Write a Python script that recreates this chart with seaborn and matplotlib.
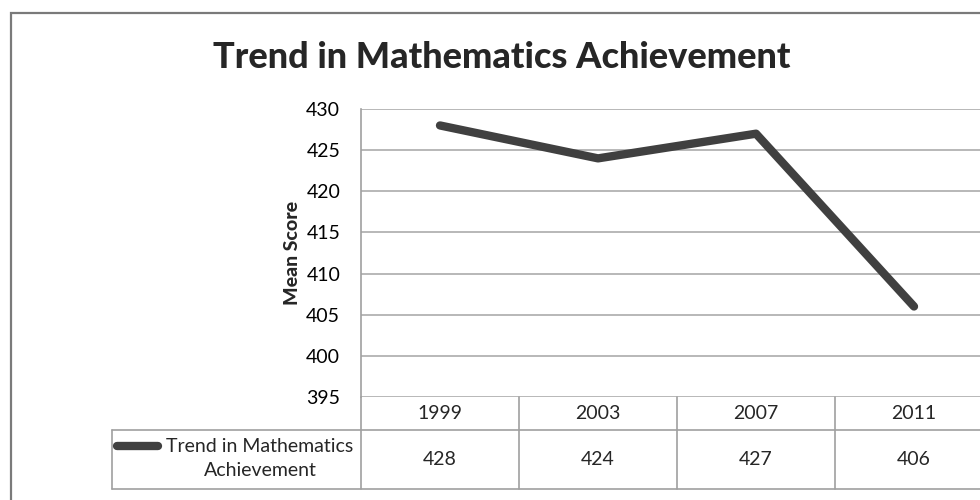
import numpy as np
import pandas as pd
import matplotlib
matplotlib.use("Agg")
import matplotlib.pyplot as plt
import seaborn as sns
from matplotlib.lines import Line2D
from matplotlib.patches import Rectangle

# ---------------- data ----------------
years = ["1999", "2003", "2007", "2011"]
scores = [428, 424, 427, 406]
series_name = "Trend in Mathematics Achievement"
y_ticks = [395, 400, 405, 410, 415, 420, 425, 430]

sns.set_style("white")
plt.rcParams["font.family"] = ["Lato", "DejaVu Sans"]

LINE_COLOR = "#404040"
GRID_COLOR = "#ababab"
TABLE_COLOR = "#a0a0a0"

W, H = 980, 500
fig = plt.figure(figsize=(9.8, 5), dpi=100)

def fx(px):
    return px / W

def fy(py):
    return 1 - py / H

# plot area (runs off the right edge, as in the reference)
ax = fig.add_axes([fx(361), fy(397), 632 / W, 288 / H])

df = pd.DataFrame({"pos": np.arange(len(years)), "score": scores})
sns.lineplot(data=df, x="pos", y="score", ax=ax, color=LINE_COLOR, linewidth=6,
             solid_capstyle="round", solid_joinstyle="round", legend=False)

ax.set_xlim(-0.5, len(years) - 0.5)
ax.set_ylim(y_ticks[0], y_ticks[-1])
ax.set_yticks(y_ticks)
ax.set_xticks([])
ax.set_xlabel("")
ax.set_ylabel("")
ax.tick_params(axis="y", length=0, pad=15, labelsize=14, colors="black")
ax.grid(axis="y", color=GRID_COLOR, linewidth=1.2)
for s in ["top", "right", "bottom"]:
    ax.spines[s].set_visible(False)
ax.spines["left"].set_color(TABLE_COLOR)
ax.spines["left"].set_linewidth(1.2)

# ---------------- data table below the plot ----------------
tr = ax.get_xaxis_transform()
y_hdr = -33 / 288
y_bot = -92 / 288
x_left = -0.5 - 249 / 158
x_right = len(years) - 0.5 + 0.2

kw = dict(transform=tr, color=TABLE_COLOR, linewidth=1.2, clip_on=False)
ax.plot([x_left, x_right], [y_hdr, y_hdr], **kw)
ax.plot([x_left, x_right], [y_bot, y_bot], **kw)
ax.plot([x_left, x_left], [y_bot, y_hdr], **kw)
for i in range(len(years) + 1):
    xb = i - 0.5
    ax.plot([xb, xb], [y_bot, 0], **kw)

for i, (yr, sc) in enumerate(zip(years, scores)):
    ax.text(i, y_hdr / 2, yr, transform=tr, ha="center", va="center", fontsize=14)
    ax.text(i, (y_hdr + y_bot) / 2, str(sc), transform=tr, ha="center", va="center",
            fontsize=14)

# legend key + series name in the row-label cell
fig.add_artist(Line2D([fx(117), fx(158)], [fy(446), fy(446)], color=LINE_COLOR,
                      linewidth=6, solid_capstyle="round"))
fig.text(fx(260), fy(458), "Trend in Mathematics\nAchievement", ha="center",
         va="center", multialignment="center", fontsize=14, linespacing=1.5)

# ---------------- titles ----------------
fig.text(fx(502), fy(57), series_name, ha="center", va="center", fontsize=26,
         fontweight="black")
fig.text(fx(292), fy(253), "Mean Score", ha="center", va="center", rotation=90,
         fontsize=14, fontweight="black")

# outer chart frame
fig.add_artist(Rectangle((fx(11), -0.1), 1.2, fy(13) + 0.1, transform=fig.transFigure,
                         fill=False, edgecolor="#7a7a7a", linewidth=1.6))

fig.savefig("out.png", dpi=100)
